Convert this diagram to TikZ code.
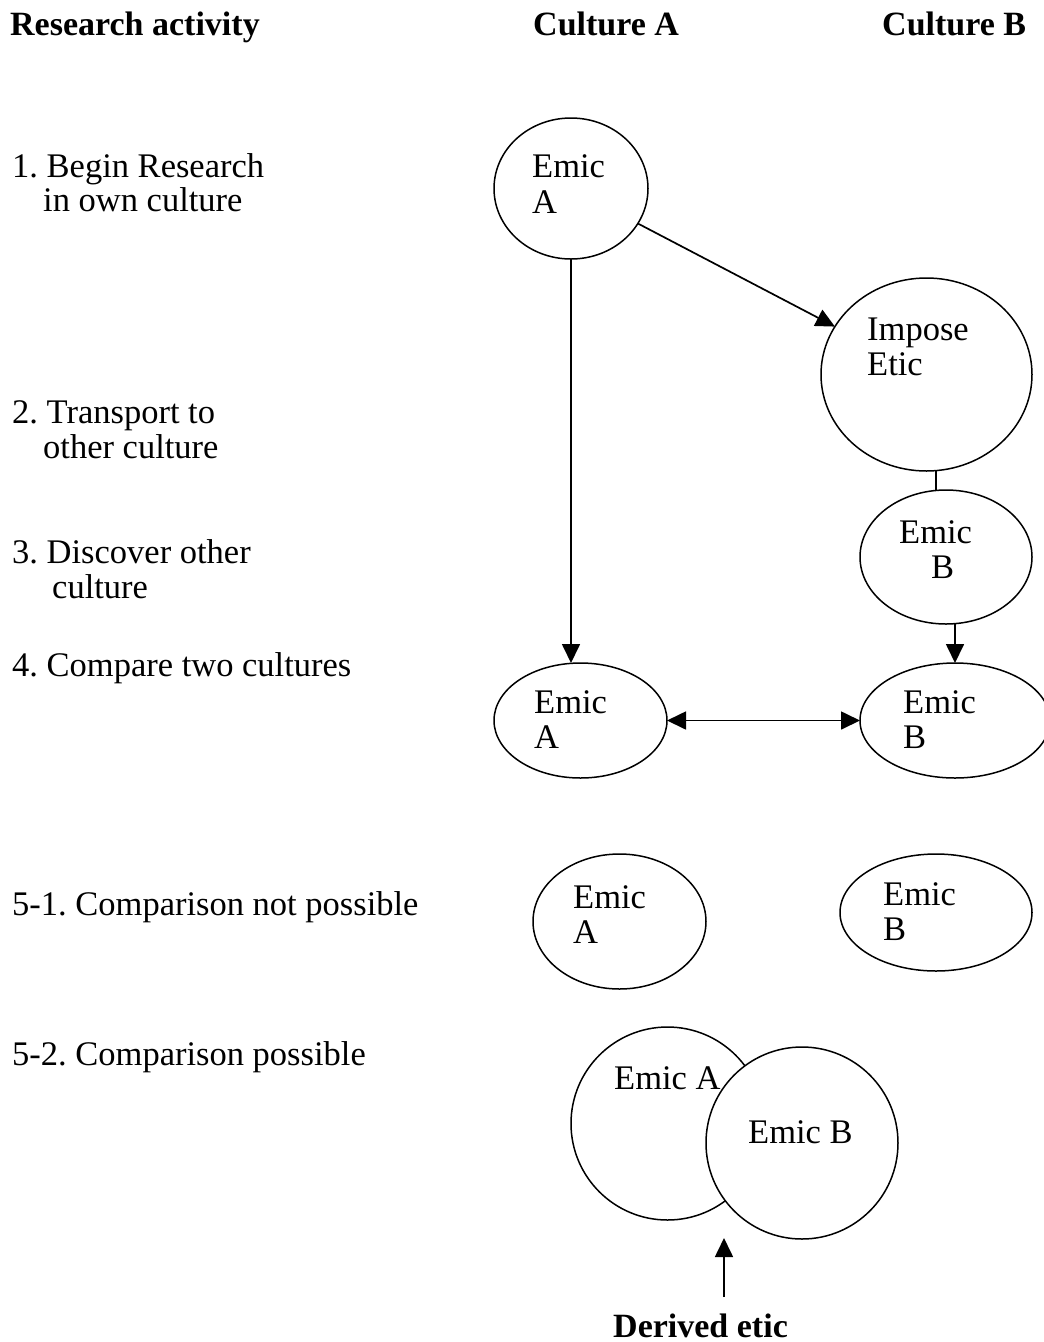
\documentclass[tikz,border=0pt]{standalone}
\usepackage{fontspec}
\setmainfont{Liberation Serif}
\usetikzlibrary{shapes.geometric,arrows.meta}
\frenchspacing
\begin{document}
\begin{tikzpicture}[x=1pt,y=-1pt,
  txt/.style={anchor=base west, inner sep=0pt, font=\fontsize{34.5}{35}\selectfont},
  hd/.style={anchor=base west, inner sep=0pt, font=\fontsize{34}{35}\selectfont\bfseries},
  ell/.style={draw, ellipse, line width=1.5pt, inner sep=0pt, outer sep=0pt},
  con/.style={line width=1.7pt},
  arr/.style={con, -{Triangle[length=19pt,width=18pt]}},
  darr/.style={con, {Triangle[length=19pt,width=18pt]}-{Triangle[length=19pt,width=18pt]}}]
\useasboundingbox (0,0) rectangle (1044,1342);
% headers
\node[hd] (h1) at (10,35) {Research activity};
\node[hd] (h2) at (533,35) {Culture A};
\node[hd] (h3) at (882,35) {Culture B};
% left column
\node[txt] (l1a) at (12,177) {1. Begin Research};
\node[txt] (l1b) at (43,211) {in own culture};
\node[txt] (l2a) at (12,423) {2. Transport to};
\node[txt] (l2b) at (43,458) {other culture};
\node[txt] (l3a) at (12,563) {3. Discover other};
\node[txt] (l3b) at (52,598) {culture};
\node[txt] (l4) at (12,676) {4. Compare two cultures};
\node[txt] (l51) at (12,915) {5-1. Comparison not possible};
\node[txt] (l52) at (12,1065) {5-2. Comparison possible};
% ellipses
\node[ell, minimum width=154pt, minimum height=141pt] (ea1) at (571,188.5) {};
\node[ell, minimum width=211pt, minimum height=193pt] (imp) at (926.5,374.5) {};
\node[ell, minimum width=172pt, minimum height=134pt] (eb3) at (946,557) {};
\node[ell, minimum width=173pt, minimum height=115pt] (ea4) at (580.5,720.5) {};
\node[ell, minimum width=190pt, minimum height=115pt] (eb4) at (955,720.5) {};
\node[ell, minimum width=173pt, minimum height=135pt] (ea5) at (619.5,921.5) {};
\node[ell, minimum width=192pt, minimum height=117pt] (eb5) at (936,912.5) {};
% texts in ellipses
\node[txt] (t1) at (532,177) {Emic};
\node[txt] (t2) at (532,213) {A};
\node[txt] (t3) at (867,340) {Impose};
\node[txt] (t4) at (867,375) {Etic};
\node[txt] (t5) at (899,543) {Emic};
\node[txt] (t6) at (931,578) {B};
\node[txt] (t7) at (534,713) {Emic};
\node[txt] (t8) at (534,748) {A};
\node[txt] (t9) at (903,713) {Emic};
\node[txt] (t10) at (903,748) {B};
\node[txt] (t11) at (573,908) {Emic};
\node[txt] (t12) at (573,943) {A};
\node[txt] (t13) at (883,905) {Emic};
\node[txt] (t14) at (883,940) {B};
% overlapping circles
\node[ell, minimum width=193pt, minimum height=193pt] (ca) at (667.5,1123.5) {};
\node[txt] (t15) at (614,1089) {Emic A};
\node[ell, fill=white, minimum width=192pt, minimum height=192pt] (cb) at (802,1143) {};
\node[txt] (t16) at (748,1143) {Emic B};
\node[hd] (de) at (613,1337) {Derived etic};
% connectors
\draw[arr] (ea1) -- (imp);
\draw[arr] (ea1.south) -- (ea1.south |- ea4.north);
\coordinate (cx) at (936,0);
\draw[con] (imp.south -| cx) -- (eb3.north -| cx);
\draw[arr] (eb3.south -| eb4.north) -- (eb4.north);
\draw[darr] (ea4.east) -- (eb4.west);
\coordinate (dtail) at (724,1297);
\coordinate (dtip) at (724,1238);
\draw[arr] (dtail) -- (dtip);
\end{tikzpicture}
\end{document}
